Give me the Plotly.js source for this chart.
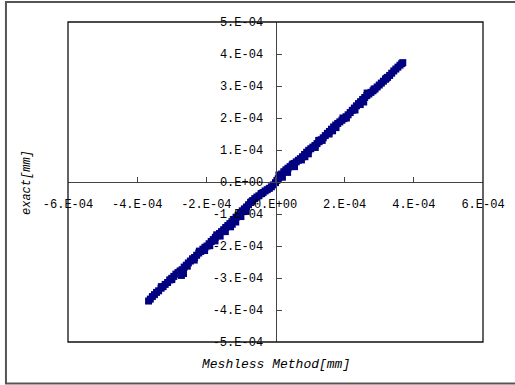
<!DOCTYPE html>
<html>
<head>
<meta charset="utf-8">
<script src="https://cdn.plot.ly/plotly-3.0.1.min.js"></script>
<style>
html,body{margin:0;padding:0;background:#fff;}
#chart{width:515px;height:385px;}
</style>
</head>
<body>
<div id="chart"></div>
<script>
// Meshless Method [mm] (x) vs exact [mm] (y)
var meshless = [
-3.67e-4,-3.62e-4,-3.56e-4,-3.50e-4,-3.44e-4,-3.38e-4,-3.31e-4,-3.25e-4,-3.19e-4,-3.12e-4,
-3.06e-4,-3.00e-4,-2.94e-4,-2.88e-4,-2.82e-4,-2.76e-4,-2.72e-4,-2.70e-4,-2.66e-4,-2.64e-4,
-2.58e-4,-2.52e-4,-2.46e-4,-2.40e-4,-2.34e-4,-2.28e-4,-2.22e-4,-2.16e-4,-2.10e-4,-2.04e-4,
-1.98e-4,-1.92e-4,-1.86e-4,-1.80e-4,-1.74e-4,-1.68e-4,-1.62e-4,-1.56e-4,-1.50e-4,-1.44e-4,
-1.38e-4,-1.32e-4,-1.26e-4,-1.20e-4,-1.14e-4,-1.08e-4,-1.02e-4,-0.96e-4,-0.90e-4,-0.84e-4,
-0.78e-4,-0.72e-4,-0.66e-4,-0.60e-4,-0.54e-4,-0.48e-4,-0.42e-4,-0.36e-4,-0.30e-4,-0.24e-4,
-0.18e-4,-0.12e-4,-0.06e-4,0.00e-4,0.04e-4,0.08e-4,0.12e-4,0.18e-4,0.24e-4,0.30e-4,
0.36e-4,0.42e-4,0.48e-4,0.54e-4,0.60e-4,0.66e-4,0.72e-4,0.78e-4,0.84e-4,0.90e-4,
0.96e-4,1.02e-4,1.08e-4,1.14e-4,1.20e-4,1.26e-4,1.32e-4,1.38e-4,1.44e-4,1.50e-4,
1.56e-4,1.62e-4,1.68e-4,1.74e-4,1.80e-4,1.86e-4,1.92e-4,1.98e-4,2.04e-4,2.10e-4,
2.16e-4,2.22e-4,2.28e-4,2.34e-4,2.40e-4,2.46e-4,2.52e-4,2.58e-4,2.64e-4,2.70e-4,
2.76e-4,2.82e-4,2.88e-4,2.94e-4,3.00e-4,3.06e-4,3.12e-4,3.18e-4,3.24e-4,3.30e-4,
3.36e-4,3.42e-4,3.48e-4,3.54e-4,3.60e-4,3.65e-4,3.68e-4,
-2.05e-4,-1.90e-4,-1.75e-4,-1.60e-4,-1.45e-4,-1.30e-4,-1.15e-4,-1.00e-4,-0.85e-4,-2.35e-4,-2.55e-4,
0.20e-4,0.35e-4,0.55e-4,0.75e-4,0.95e-4,1.15e-4,1.35e-4,1.55e-4,1.75e-4,2.05e-4,2.30e-4,2.55e-4,2.65e-4,0.10e-4,
-3.30e-4,-3.00e-4,-2.20e-4,-1.70e-4,-1.25e-4,-0.70e-4,-0.40e-4,0.50e-4,0.85e-4,1.25e-4,1.65e-4,1.95e-4,2.45e-4,2.85e-4,3.20e-4
];
var exact = [
-3.72e-4,-3.66e-4,-3.58e-4,-3.52e-4,-3.45e-4,-3.40e-4,-3.32e-4,-3.27e-4,-3.20e-4,-3.14e-4,
-3.06e-4,-3.01e-4,-2.95e-4,-2.88e-4,-2.83e-4,-2.78e-4,-2.92e-4,-2.74e-4,-2.86e-4,-2.66e-4,
-2.60e-4,-2.53e-4,-2.47e-4,-2.40e-4,-2.36e-4,-2.29e-4,-2.22e-4,-2.17e-4,-2.10e-4,-2.04e-4,
-2.00e-4,-1.93e-4,-1.86e-4,-1.80e-4,-1.73e-4,-1.68e-4,-1.61e-4,-1.55e-4,-1.49e-4,-1.42e-4,
-1.36e-4,-1.30e-4,-1.24e-4,-1.17e-4,-1.10e-4,-1.04e-4,-0.96e-4,-0.90e-4,-0.84e-4,-0.78e-4,
-0.71e-4,-0.64e-4,-0.58e-4,-0.52e-4,-0.47e-4,-0.43e-4,-0.37e-4,-0.33e-4,-0.28e-4,-0.24e-4,
-0.20e-4,-0.15e-4,-0.09e-4,-0.02e-4,0.05e-4,0.10e-4,0.16e-4,0.25e-4,0.32e-4,0.38e-4,
0.43e-4,0.48e-4,0.53e-4,0.58e-4,0.63e-4,0.68e-4,0.73e-4,0.79e-4,0.86e-4,0.93e-4,
0.99e-4,1.04e-4,1.09e-4,1.14e-4,1.20e-4,1.26e-4,1.32e-4,1.38e-4,1.45e-4,1.52e-4,
1.58e-4,1.65e-4,1.72e-4,1.78e-4,1.83e-4,1.88e-4,1.93e-4,1.98e-4,2.04e-4,2.10e-4,
2.17e-4,2.24e-4,2.31e-4,2.38e-4,2.45e-4,2.51e-4,2.58e-4,2.64e-4,2.70e-4,2.75e-4,
2.80e-4,2.85e-4,2.91e-4,2.97e-4,3.03e-4,3.09e-4,3.15e-4,3.21e-4,3.27e-4,3.33e-4,
3.40e-4,3.47e-4,3.53e-4,3.59e-4,3.65e-4,3.70e-4,3.73e-4,
-2.14e-4,-1.99e-4,-1.84e-4,-1.69e-4,-1.55e-4,-1.40e-4,-1.25e-4,-1.08e-4,-0.92e-4,-2.44e-4,-2.63e-4,
0.15e-4,0.30e-4,0.48e-4,0.69e-4,0.88e-4,1.08e-4,1.30e-4,1.50e-4,1.70e-4,2.00e-4,2.25e-4,2.50e-4,2.78e-4,0.22e-4,
-3.27e-4,-3.05e-4,-2.16e-4,-1.65e-4,-1.32e-4,-0.62e-4,-0.36e-4,0.56e-4,0.79e-4,1.30e-4,1.60e-4,2.00e-4,2.42e-4,2.90e-4,3.24e-4
];
var xTickVals = [-6e-4,-4e-4,-2e-4,0,2e-4,4e-4,6e-4];
var xTickText = ['-6.E-04','-4.E-04','-2.E-04','0.E+00','2.E-04','4.E-04','6.E-04'];
var yTickVals = [-5e-4,-4e-4,-3e-4,-2e-4,-1e-4,0,1e-4,2e-4,3e-4,4e-4,5e-4];
var yTickText = ['-5.E-04','-4.E-04','-3.E-04','-2.E-04','-1.E-04','0.E+00','1.E-04','2.E-04','3.E-04','4.E-04','5.E-04'];

var tickFont = {family:'Liberation Mono, monospace', size:12, color:'#000'};

var trace = {
  x: meshless, y: exact, type:'scatter', mode:'markers',
  marker:{symbol:'square', size:7, color:'#000080', line:{width:0}},
  showlegend:false, hoverinfo:'skip', cliponaxis:false
};

var layout = {
  width:515, height:385,
  margin:{l:68, r:32, t:22, b:43, pad:0},
  paper_bgcolor:'#fff', plot_bgcolor:'#fff',
  showlegend:false,
  xaxis:{
    range:[-6e-4,6e-4], anchor:'free', position:0.5,
    tickmode:'array', tickvals:xTickVals, ticktext:xTickText,
    ticks:'inside', ticklen:5, tickcolor:'#444', tickwidth:1,
    showline:true, linecolor:'#444', linewidth:1,
    showgrid:false, zeroline:false, tickfont:tickFont,
    ticklabelstandoff:11
  },
  yaxis:{
    range:[-5e-4,5e-4], anchor:'free', position:0.5, side:'left',
    tickmode:'array', tickvals:yTickVals, ticktext:yTickText,
    ticks:'inside', ticklen:5, tickcolor:'#444', tickwidth:1,
    showline:true, linecolor:'#444', linewidth:1,
    showgrid:false, zeroline:false, tickfont:tickFont,
    ticklabelstandoff:10
  },
  shapes:[
    {type:'rect', xref:'paper', yref:'paper', x0:0, x1:1, y0:0, y1:1,
     line:{color:'#111', width:1.3}, layer:'above'},
    {type:'rect', xref:'paper', yref:'paper', x0:-0.1495, x1:1.2, y0:-0.1297, y1:1.0625,
     line:{color:'#555', width:2}, layer:'below'}
  ],
  annotations:[
    {text:'Meshless Method[mm]', xref:'paper', yref:'paper', x:0.5, y:-0.0688,
     xanchor:'center', yanchor:'middle', showarrow:false,
     font:{family:'Liberation Mono, monospace', size:13, style:'italic', color:'#000'}},
    {text:'exact[mm]', xref:'paper', yref:'paper', x:-0.0988, y:0.5,
     xanchor:'center', yanchor:'middle', showarrow:false, textangle:-90,
     font:{family:'Liberation Mono, monospace', size:12, style:'italic', color:'#000'}}
  ]
};

Plotly.newPlot('chart', [trace], layout, {staticPlot:true, displayModeBar:false});
</script>
</body>
</html>
